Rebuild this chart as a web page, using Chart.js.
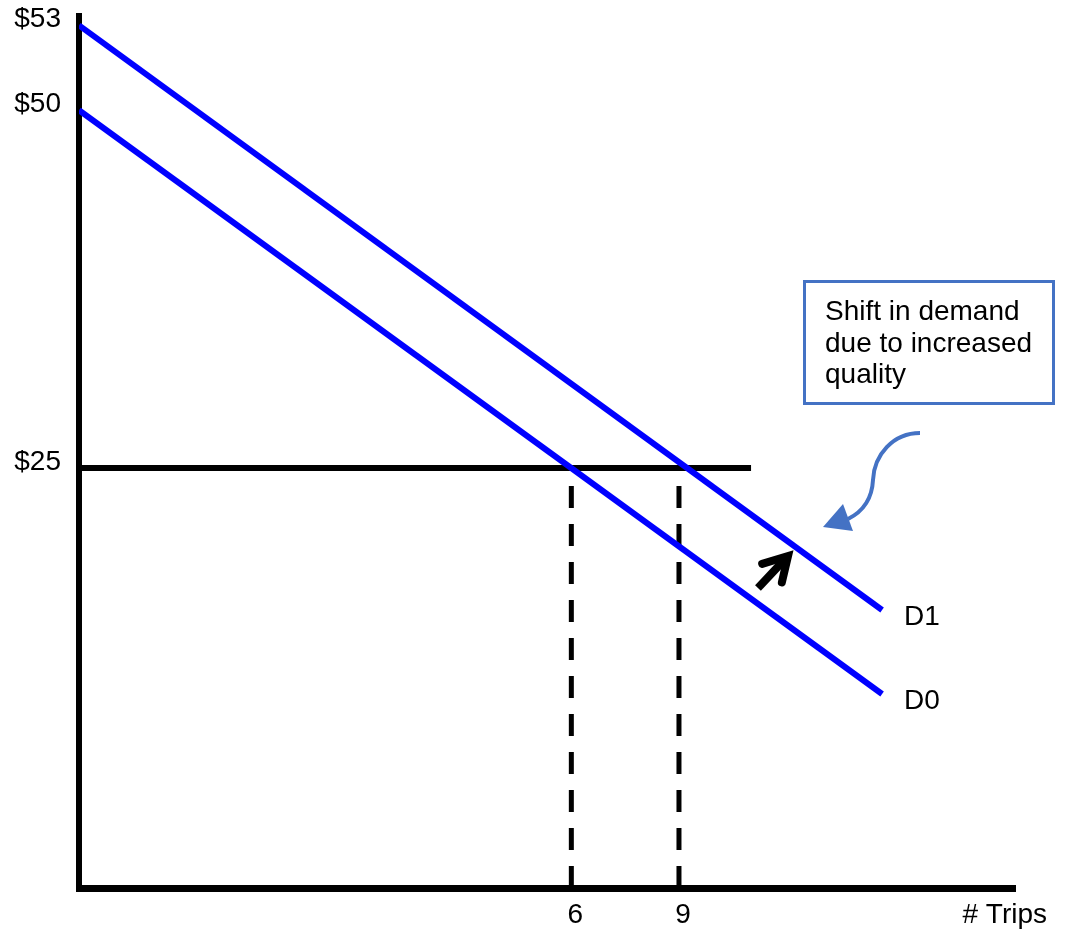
<!DOCTYPE html>
<html>
<head>
<meta charset="utf-8">
<title>Shift in demand</title>
<script src="https://cdn.jsdelivr.net/npm/chart.js@4.4.1/dist/chart.umd.min.js"></script>
<style>
    html, body { margin: 0; padding: 0; background: #fff; }
    #wrap { width: 1065px; height: 930px; position: relative; }
</style>
</head>
<body>
<div id="wrap"><canvas id="chart"></canvas></div>
<script>
// schematic diagram: both axes run 0-100 in plot units,
// the ticks carry the price / trip labels at the points they mark
var qtyTicks = [52.6, 64.1];
var qtyLabels = ['6', '9'];
var priceTicks = [48.17, 89.19, 98.93];
var priceLabels = ['$25', '$50', '$53'];

var curveNames = ['D1', 'D0'];
var d1Points = [{ x: 0, y: priceTicks[2] }, { x: 85.8, y: 31.88 }];
var d0Points = [{ x: 0, y: priceTicks[1] }, { x: 85.8, y: 22.25 }];
var priceLineEnd = 71.8;
var shiftPoints = [{ x: 72.54, y: 34.4 }, { x: 75.75, y: 38.07 }];
var noteLines = ['Shift in demand', 'due to increased', 'quality'];
var axisTitle = '# Trips';

var FONT = '"Liberation Sans", Arial, sans-serif';
Chart.defaults.font.family = FONT;
Chart.defaults.color = '#000';

function vline(x) {
    return [{ x: x, y: 0 }, { x: x, y: priceTicks[0] }];
}

// names, arrowheads and the callout box
var extras = {
    id: 'extras',
    afterDraw: function (chart) {
        var ctx = chart.ctx, xs = chart.scales.x, ys = chart.scales.y;
        ctx.save();
        ctx.font = '28px ' + FONT;
        ctx.fillStyle = '#000';
        ctx.textBaseline = 'middle';

        // curve names beside the line ends
        [0, 1].forEach(function (i) {
            var pts = chart.data.datasets[i].data;
            var end = pts[pts.length - 1];
            ctx.textAlign = 'left';
            ctx.fillText(curveNames[i], xs.getPixelForValue(end.x) + 22, ys.getPixelForValue(end.y) + 7);
        });

        // axis title sits on the tick label row
        ctx.textAlign = 'right';
        ctx.fillText(axisTitle, xs.right + 32, xs.top + 27);

        // head of the shift arrow
        var a = shiftPoints[0], b = shiftPoints[1];
        var ax = xs.getPixelForValue(a.x), ay = ys.getPixelForValue(a.y);
        var bx = xs.getPixelForValue(b.x), by = ys.getPixelForValue(b.y);
        var back = Math.atan2(ay - by, ax - bx);
        var len = 27, spread = Math.PI / 6;
        ctx.strokeStyle = '#000';
        ctx.lineWidth = 8;
        ctx.lineCap = 'round';
        ctx.lineJoin = 'miter';
        ctx.beginPath();
        ctx.moveTo(bx + len * Math.cos(back - spread), by + len * Math.sin(back - spread));
        ctx.lineTo(bx, by);
        ctx.lineTo(bx + len * Math.cos(back + spread), by + len * Math.sin(back + spread));
        ctx.stroke();

        // callout
        var L = Math.round(xs.getPixelForValue(77.35)), T = Math.round(ys.getPixelForValue(69.72));
        var blue = '#4472C4';
        ctx.strokeStyle = blue;
        ctx.lineWidth = 3;
        ctx.lineCap = 'butt';
        ctx.strokeRect(L + 1.5, T + 1.5, 249, 122);
        ctx.textAlign = 'left';
        ctx.textBaseline = 'alphabetic';
        ctx.fillText(noteLines[0], L + 22, T + 40);
        ctx.fillText(noteLines[1], L + 22, T + 72);
        ctx.fillText(noteLines[2], L + 22, T + 103);

        ctx.lineWidth = 4;
        ctx.beginPath();
        ctx.moveTo(L + 117, T + 153);
        ctx.bezierCurveTo(L + 90, T + 153, L + 71, T + 175, L + 70, T + 200);
        ctx.bezierCurveTo(L + 69, T + 220, L + 59, T + 232, L + 45, T + 239);
        ctx.stroke();
        ctx.fillStyle = blue;
        ctx.beginPath();
        ctx.moveTo(L + 20, T + 247);
        ctx.lineTo(L + 40, T + 224);
        ctx.lineTo(L + 50, T + 251);
        ctx.closePath();
        ctx.fill();
        ctx.restore();
    }
};

var line = function (data, color, width, dash) {
    return {
        data: data,
        showLine: true,
        borderColor: color,
        borderWidth: width,
        borderDash: dash || [],
        pointRadius: 0,
        fill: false
    };
};

new Chart(document.getElementById('chart'), {
    type: 'scatter',
    data: {
        datasets: [
            line(d1Points, '#0000FF', 6),
            line(d0Points, '#0000FF', 6),
            line([{ x: 0, y: priceTicks[0] }, { x: priceLineEnd, y: priceTicks[0] }], '#000', 6),
            line(vline(qtyTicks[0]), '#000', 5, [22, 16]),
            line(vline(qtyTicks[1]), '#000', 5, [22, 16]),
            line(shiftPoints, '#000', 8)
        ]
    },
    options: {
        responsive: true,
        maintainAspectRatio: false,
        animation: false,
        layout: { padding: { top: 16, right: 50, left: 0, bottom: 0 } },
        plugins: { legend: { display: false }, tooltip: { enabled: false } },
        scales: {
            x: {
                type: 'linear', min: 0, max: 100, z: 1,
                grid: { display: false, drawTicks: false },
                border: { display: true, color: '#000', width: 7 },
                afterFit: function (s) {
                    s.height = 42;
                    s.paddingLeft = 0;
                    s.paddingRight = 0;
                },
                afterBuildTicks: function (s) {
                    s.ticks = qtyTicks.map(function (v) { return { value: v }; });
                },
                ticks: {
                    padding: 10, labelOffset: 4, maxRotation: 0, autoSkip: false,
                    font: { size: 28 },
                    callback: function (v, i) { return qtyLabels[i]; }
                }
            },
            y: {
                type: 'linear', min: 0, max: 100, z: 1,
                grid: { display: false, drawTicks: false },
                border: { display: true, color: '#000', width: 6 },
                afterFit: function (s) {
                    s.width = 79;
                    // the top label may overhang the plot area
                    s.paddingTop = 0;
                    s.paddingBottom = 0;
                },
                afterBuildTicks: function (s) {
                    s.ticks = priceTicks.map(function (v) { return { value: v }; });
                },
                ticks: {
                    padding: 18, labelOffset: -6, autoSkip: false,
                    font: { size: 28 },
                    callback: function (v, i) { return priceLabels[i]; }
                }
            }
        }
    },
    plugins: [extras]
});
</script>
</body>
</html>
